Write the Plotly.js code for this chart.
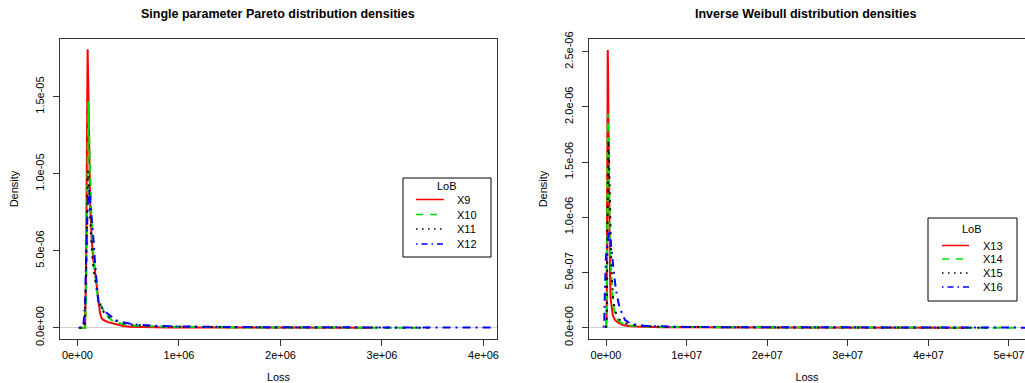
<!DOCTYPE html>
<html>
<head>
<meta charset="utf-8">
<script src="https://cdn.plot.ly/plotly-3.0.1.min.js"></script>
<style>html,body{margin:0;padding:0;background:#fff;}#chart{width:1025px;height:383px;}</style>
</head>
<body>
<div id="chart"></div>
<script>
// ---- Data: Single parameter Pareto densities (left panel) ----
const paretoNames = ["X9", "X10", "X11", "X12"];
const p9x = [30000, 75000, 85000, 93000, 100000, 107000, 115000, 125000, 140000, 156000, 172000, 189000, 205000, 222000, 238000, 254000, 300000, 353000, 400000, 450000, 520000, 620000, 750000, 900000, 1100000, 1400000, 1800000, 2300000, 2900000];
const p9y = [0, 0, 4.0e-6, 13.5e-6, 18.08e-6, 15.5e-6, 11.0e-6, 8.0e-6, 5.8e-6, 4.4e-6, 3.7e-6, 2.66e-6, 1.6e-6, 0.95e-6, 0.61e-6, 0.5e-6, 0.36e-6, 0.28e-6, 0.16e-6, 0.11e-6, 0.06e-6, 0.04e-6, 0.03e-6, 0.02e-6, 0.01e-6, 0.006e-6, 0.004e-6, 0.002e-6, 0];
const p10x = [30000, 78000, 88000, 96000, 107000, 115000, 125000, 140000, 156000, 172000, 189000, 205000, 222000, 238000, 270000, 300000, 353000, 420000, 485000, 560000, 650000, 750000, 900000, 1050000, 1250000, 1500000, 1800000, 2100000, 2700000, 3400000];
const p10y = [0, 0, 3.0e-6, 10.5e-6, 14.7e-6, 12.5e-6, 9.5e-6, 6.8e-6, 4.9e-6, 3.5e-6, 2.45e-6, 1.9e-6, 1.6e-6, 1.36e-6, 1.0e-6, 0.71e-6, 0.39e-6, 0.27e-6, 0.18e-6, 0.14e-6, 0.09e-6, 0.1e-6, 0.05e-6, 0.06e-6, 0.03e-6, 0.02e-6, 0.01e-6, 0.006e-6, 0.003e-6, 0];
const p11x = [20000, 70000, 82000, 92000, 103000, 113000, 125000, 140000, 156000, 172000, 189000, 205000, 222000, 250000, 280000, 320000, 370000, 420000, 500000, 600000, 700000, 850000, 1000000, 1200000, 1500000, 1900000, 2400000, 2900000, 3500000];
const p11y = [0, 0, 2.5e-6, 7.5e-6, 10.2e-6, 9.0e-6, 7.0e-6, 5.2e-6, 3.9e-6, 3.1e-6, 2.5e-6, 1.9e-6, 1.5e-6, 1.1e-6, 0.85e-6, 0.62e-6, 0.45e-6, 0.33e-6, 0.22e-6, 0.15e-6, 0.11e-6, 0.08e-6, 0.06e-6, 0.05e-6, 0.03e-6, 0.02e-6, 0.01e-6, 0.005e-6, 0];
const p12x = [10000, 45000, 60000, 75000, 85000, 95000, 105000, 117000, 130000, 143000, 156000, 172000, 189000, 205000, 222000, 240000, 270000, 300000, 337000, 380000, 420000, 480000, 540000, 616000, 700000, 810000, 950000, 1100000, 1300000, 1600000, 2000000, 2500000, 3000000, 3500000, 4100000];
const p12y = [0, 0, 0.3e-6, 1.5e-6, 4.5e-6, 7.5e-6, 8.7e-6, 8.94e-6, 8.0e-6, 7.0e-6, 5.9e-6, 4.3e-6, 2.9e-6, 1.69e-6, 1.58e-6, 1.3e-6, 1.04e-6, 0.9e-6, 0.71e-6, 0.5e-6, 0.39e-6, 0.29e-6, 0.24e-6, 0.18e-6, 0.13e-6, 0.11e-6, 0.08e-6, 0.06e-6, 0.05e-6, 0.04e-6, 0.03e-6, 0.02e-6, 0.015e-6, 0.01e-6, 0.005e-6];

// ---- Data: Inverse Weibull densities (right panel) ----
const weibullNames = ["X13", "X14", "X15", "X16"];
const w13x = [20000, 90000, 150000, 190000, 215000, 250000, 300000, 350000, 400000, 450000, 500000, 580000, 700000, 850000, 1100000, 1500000, 2100000, 2800000, 3800000, 5000000, 7000000, 10000000, 14000000, 20000000, 27000000, 36000000, 45000000];
const w13y = [0, 0.15e-6, 1.3e-6, 2.3e-6, 2.515e-6, 2.35e-6, 1.9e-6, 1.45e-6, 1.05e-6, 0.72e-6, 0.45e-6, 0.26e-6, 0.16e-6, 0.11e-6, 0.07e-6, 0.045e-6, 0.025e-6, 0.015e-6, 0.01e-6, 0.007e-6, 0.004e-6, 0.003e-6, 0.002e-6, 0.001e-6, 0.0008e-6, 0.0004e-6, 0];
const w14x = [20000, 90000, 150000, 190000, 215000, 260000, 320000, 380000, 450000, 520000, 580000, 700000, 900000, 1100000, 1400000, 1740000, 2300000, 3000000, 4000000, 5500000, 7500000, 10000000, 14000000, 19000000, 25000000, 32000000, 40000000, 47000000, 51000000];
const w14y = [0, 0.12e-6, 1.0e-6, 1.75e-6, 1.94e-6, 1.85e-6, 1.55e-6, 1.2e-6, 0.9e-6, 0.7e-6, 0.59e-6, 0.4e-6, 0.19e-6, 0.14e-6, 0.08e-6, 0.05e-6, 0.03e-6, 0.02e-6, 0.014e-6, 0.01e-6, 0.007e-6, 0.005e-6, 0.004e-6, 0.003e-6, 0.002e-6, 0.001e-6, 0.0008e-6, 0.0004e-6, 0];
const w15x = [10000, 100000, 170000, 230000, 300000, 370000, 450000, 550000, 650000, 750000, 900000, 1100000, 1400000, 1800000, 2400000, 3200000, 4500000, 6000000, 8000000, 11000000, 15000000, 20000000, 26000000, 33000000, 42000000, 48000000];
const w15y = [0, 0.1e-6, 0.8e-6, 1.45e-6, 1.7e-6, 1.55e-6, 1.2e-6, 0.85e-6, 0.6e-6, 0.42e-6, 0.24e-6, 0.16e-6, 0.1e-6, 0.06e-6, 0.04e-6, 0.025e-6, 0.015e-6, 0.01e-6, 0.007e-6, 0.005e-6, 0.004e-6, 0.003e-6, 0.002e-6, 0.001e-6, 0.0005e-6, 0];
const w16x = [-300000, -220000, -150000, -80000, 0, 150000, 300000, 410000, 520000, 650000, 780000, 900000, 1050000, 1240000, 1450000, 1650000, 2000000, 2360000, 3000000, 3800000, 5000000, 7000000, 10000000, 14000000, 19000000, 25000000, 32000000, 40000000, 46000000, 52500000];
const w16y = [0, 0.05e-6, 0.3e-6, 0.55e-6, 0.65e-6, 0.75e-6, 0.85e-6, 0.885e-6, 0.82e-6, 0.72e-6, 0.66e-6, 0.59e-6, 0.45e-6, 0.34e-6, 0.25e-6, 0.19e-6, 0.13e-6, 0.07e-6, 0.04e-6, 0.025e-6, 0.015e-6, 0.01e-6, 0.007e-6, 0.005e-6, 0.004e-6, 0.003e-6, 0.002e-6, 0.0015e-6, 0.001e-6, 0.0005e-6];

// ---- Tick labels ----
const leftXTicks = [0, 1e6, 2e6, 3e6, 4e6];
const leftXLabels = ["0e+00", "1e+06", "2e+06", "3e+06", "4e+06"];
const leftYTicks = [0, 5e-6, 1e-5, 1.5e-5];
const leftYLabels = ["0.0e+00", "5.0e-06", "1.0e-05", "1.5e-05"];
const rightXTicks = [0, 1e7, 2e7, 3e7, 4e7, 5e7];
const rightXLabels = ["0e+00", "1e+07", "2e+07", "3e+07", "4e+07", "5e+07"];
const rightYTicks = [0, 5e-7, 1e-6, 1.5e-6, 2e-6, 2.5e-6];
const rightYLabels = ["0.0e+00", "5.0e-07", "1.0e-06", "1.5e-06", "2.0e-06", "2.5e-06"];

const titles = ["Single parameter Pareto distribution densities", "Inverse Weibull distribution densities"];
const legendTitle = "LoB";

// ---- Styles ----
const colors = ["#FF0000", "#00E000", "#000000", "#0000FF"];
const dashes = ["solid", "8px,6px", "2px,6px", "2px,5px,8px,5px"];
const legDashes = ["solid", "7px,7px", "1.5px,4.5px", "1.5px,4px,6px,4px"];
const FONT = "Liberation Sans, Arial, Helvetica, sans-serif";

const pX = [p9x, p10x, p11x, p12x], pY = [p9y, p10y, p11y, p12y];
const wX = [w13x, w14x, w15x, w16x], wY = [w13y, w14y, w15y, w16y];

const traces = [];
for (let i = 0; i < 4; i++) {
  traces.push({x: pX[i], y: pY[i], type: "scatter", mode: "lines", name: paretoNames[i],
    xaxis: "x", yaxis: "y", showlegend: false,
    line: {color: colors[i], width: 2, dash: dashes[i]}});
}
for (let i = 0; i < 4; i++) {
  traces.push({x: wX[i], y: wY[i], type: "scatter", mode: "lines", name: weibullNames[i],
    xaxis: "x2", yaxis: "y2", showlegend: false,
    line: {color: colors[i], width: 2, dash: dashes[i]}});
}

const W = 1025, H = 383;
const px = v => v / W, py = v => 1 - v / H;

function xax(domain, range, tv, tt) {
  return {domain: domain, range: range, tickvals: tv, ticktext: tt, ticks: "outside", ticklen: 6,
    tickcolor: "#333", tickwidth: 1, showline: true, linecolor: "#333", linewidth: 1,
    showgrid: false, zeroline: false, tickfont: {family: FONT, size: 11, color: "#000"},
    title: {text: "Loss", font: {family: FONT, size: 11, color: "#000"}, standoff: 14}};
}
function yax(domain, range, tv, tt) {
  return {domain: domain, range: range, tickvals: tv, ticktext: tt, ticks: "outside", ticklen: 6,
    tickcolor: "#333", tickwidth: 1, showline: true, linecolor: "#333", linewidth: 1,
    showgrid: false, zeroline: true, zerolinecolor: "#cfcfcf", zerolinewidth: 1.5, tickangle: -90,
    ticklabelstandoff: 5,
    tickfont: {family: FONT, size: 11, color: "#000"},
    title: {text: "Density", font: {family: FONT, size: 11, color: "#000"}, standoff: 12}};
}

// ---- Manual R-style legends ----
const shapes = [], annotations = [];
function addLegend(box, titleY, titleX, itemYs, lineX0, lineX1, textX, names) {
  shapes.push({type: "rect", xref: "paper", yref: "paper", x0: px(box[0]), x1: px(box[1]),
    y0: py(box[3]), y1: py(box[2]), line: {color: "#000", width: 1}, fillcolor: "#fff", layer: "above"});
  annotations.push({text: legendTitle, xref: "paper", yref: "paper", x: px(titleX), y: py(titleY),
    xanchor: "center", yanchor: "middle", showarrow: false, font: {family: FONT, size: 11, color: "#000"}});
  for (let i = 0; i < names.length; i++) {
    shapes.push({type: "line", xref: "paper", yref: "paper", x0: px(lineX0), x1: px(lineX1),
      y0: py(itemYs[i]), y1: py(itemYs[i]), layer: "above",
      line: {color: colors[i], width: 1.5, dash: legDashes[i]}});
    annotations.push({text: names[i], xref: "paper", yref: "paper", x: px(textX), y: py(itemYs[i]),
      xanchor: "left", yanchor: "middle", showarrow: false, font: {family: FONT, size: 11, color: "#000"}});
  }
}
addLegend([403, 491, 178, 257], 186, 447, [199.5, 214.5, 229, 244], 416, 444, 455, paretoNames);
addLegend([928, 1017, 218, 301], 228.5, 972, [245.5, 259, 273, 287], 942, 969, 981, weibullNames);

annotations.push(
  {text: "<b>" + titles[0] + "</b>", xref: "paper", yref: "paper", x: px(278), y: py(13.5),
   xanchor: "center", yanchor: "middle", showarrow: false, font: {family: FONT, size: 12.5, color: "#000"}},
  {text: "<b>" + titles[1] + "</b>", xref: "paper", yref: "paper", x: px(805), y: py(13.5),
   xanchor: "center", yanchor: "middle", showarrow: false, font: {family: FONT, size: 12.5, color: "#000"}}
);

const yDom = [py(339), py(39)];
const layout = {
  width: W, height: H,
  margin: {l: 0, r: 0, t: 0, b: 0},
  paper_bgcolor: "#fff", plot_bgcolor: "#fff",
  showlegend: false,
  xaxis: Object.assign(xax([px(60), px(497)], [-172000, 4133000], leftXTicks, leftXLabels), {anchor: "y", mirror: true}),
  yaxis: Object.assign(yax(yDom, [-7.34e-7, 1.8747e-5], leftYTicks, leftYLabels), {anchor: "x", mirror: true}),
  xaxis2: Object.assign(xax([px(589), 1], [-2110000, 51990000], rightXTicks, rightXLabels), {anchor: "y2", mirror: true}),
  yaxis2: Object.assign(yax(yDom, [-1.024e-7, 2.615e-6], rightYTicks, rightYLabels), {anchor: "x2", mirror: false}),
  shapes: shapes,
  annotations: annotations
};

Plotly.newPlot("chart", traces, layout, {staticPlot: true, displayModeBar: false});
</script>
</body>
</html>
